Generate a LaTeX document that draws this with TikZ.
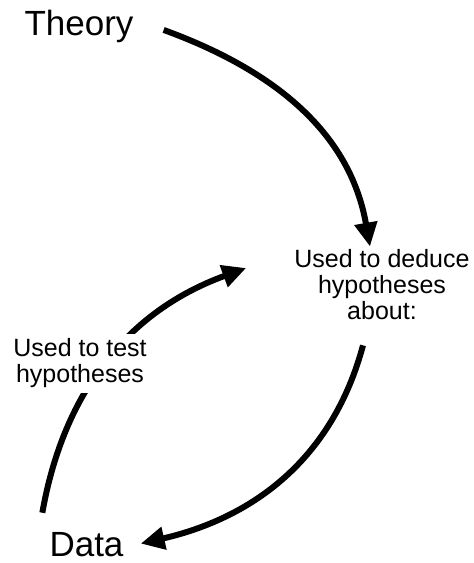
\documentclass[tikz,border=0pt]{standalone}
\usepackage{fontspec}
\setmainfont{Liberation Sans}
\usetikzlibrary{arrows.meta}

\begin{document}
\begin{tikzpicture}[x=1pt, y=1pt,
    big/.style={font=\fontsize{35}{40}\selectfont, inner sep=3pt},
    note/.style={font=\fontsize{25}{26}\selectfont, align=center, inner sep=3pt},
    arr/.style={-{Triangle[length=24pt,width=22pt]}, line width=6pt}
  ]
  \useasboundingbox (0,0) rectangle (474,563);
  \node[big, anchor=base] (theory) at (79,527) {Theory};
  \node[big, anchor=base] (data) at (86.5,6) {Data};
  \node[note] (deduce) at (382,278) {Used to deduce\\hypotheses\\about:};

  \draw[arr] ([xshift=27pt,yshift=-3pt]theory.east) to[out=-20,in=100] ([xshift=-12pt]deduce.north);
  \draw[arr] ([xshift=-19pt,yshift=-22pt]deduce.south) to[out=-105,in=13] ([xshift=14pt,yshift=1.5pt]data.east);
  \draw[arr] ([xshift=-4pt,yshift=17pt]data.north west) to[out=80,in=200] ([xshift=-45pt,yshift=17pt]deduce.west);
  \node[note, fill=white, inner sep=5pt] (test) at (80,199.5) {Used to test\\hypotheses};
\end{tikzpicture}
\end{document}
